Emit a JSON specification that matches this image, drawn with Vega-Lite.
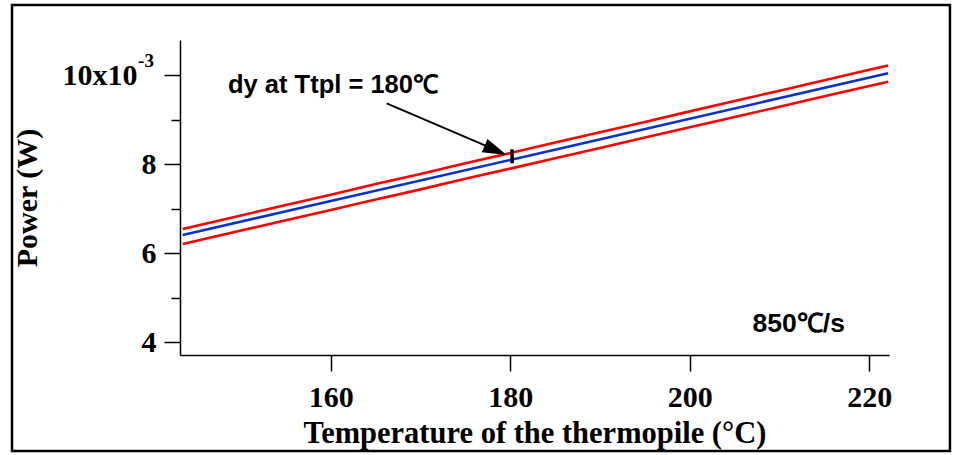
{
  "$schema": "https://vega.github.io/schema/vega-lite/v6.json",
  "width": 709,
  "height": 315,
  "autosize": {"type": "none"},
  "padding": {"left": 180, "top": 40, "right": 64, "bottom": 100},
  "background": "white",
  "config": {"view": {"stroke": null}},
  "datasets": {
    "curves": [
      {"T": 143.5, "P": 0.006542, "series": "upper"},
      {"T": 150, "P": 0.006846, "series": "upper"},
      {"T": 155, "P": 0.007082, "series": "upper"},
      {"T": 160, "P": 0.007312, "series": "upper"},
      {"T": 165, "P": 0.007551, "series": "upper"},
      {"T": 170, "P": 0.007779, "series": "upper"},
      {"T": 175, "P": 0.008018, "series": "upper"},
      {"T": 180, "P": 0.008249, "series": "upper"},
      {"T": 185, "P": 0.008486, "series": "upper"},
      {"T": 190, "P": 0.008716, "series": "upper"},
      {"T": 195, "P": 0.008948, "series": "upper"},
      {"T": 200, "P": 0.009186, "series": "upper"},
      {"T": 205, "P": 0.009421, "series": "upper"},
      {"T": 210, "P": 0.009650, "series": "upper"},
      {"T": 215, "P": 0.009887, "series": "upper"},
      {"T": 220, "P": 0.010119, "series": "upper"},
      {"T": 222.1, "P": 0.010217, "series": "upper"},
      {"T": 143.5, "P": 0.006407, "series": "center"},
      {"T": 160, "P": 0.007170, "series": "center"},
      {"T": 180, "P": 0.008095, "series": "center"},
      {"T": 200, "P": 0.009020, "series": "center"},
      {"T": 222.1, "P": 0.010042, "series": "center"},
      {"T": 143.5, "P": 0.006205, "series": "lower"},
      {"T": 150, "P": 0.006507, "series": "lower"},
      {"T": 155, "P": 0.006741, "series": "lower"},
      {"T": 160, "P": 0.006969, "series": "lower"},
      {"T": 165, "P": 0.007205, "series": "lower"},
      {"T": 170, "P": 0.007433, "series": "lower"},
      {"T": 175, "P": 0.007669, "series": "lower"},
      {"T": 180, "P": 0.007899, "series": "lower"},
      {"T": 185, "P": 0.008133, "series": "lower"},
      {"T": 190, "P": 0.008361, "series": "lower"},
      {"T": 195, "P": 0.008597, "series": "lower"},
      {"T": 200, "P": 0.008827, "series": "lower"},
      {"T": 205, "P": 0.009061, "series": "lower"},
      {"T": 210, "P": 0.009289, "series": "lower"},
      {"T": 215, "P": 0.009525, "series": "lower"},
      {"T": 220, "P": 0.009756, "series": "lower"},
      {"T": 222.1, "P": 0.009853, "series": "lower"}
    ]
  },
  "layer": [
    {
      "data": {"name": "curves"},
      "mark": {"type": "line", "strokeWidth": 2.6},
      "encoding": {
        "x": {
          "field": "T", "type": "quantitative",
          "scale": {"domain": [143.2, 222.2], "nice": false, "zero": false},
          "axis": {
            "values": [160, 180, 200, 220],
            "grid": false,
            "tickSize": 16, "tickWidth": 1.5, "tickColor": "black",
            "domainColor": "black", "domainWidth": 1.5,
            "labelFont": "Liberation Serif", "labelFontWeight": "bold", "labelFontSize": 30,
            "labelColor": "black", "labelPadding": 11, "labelFlush": false, "labelOverlap": false,
            "title": "Temperature of the thermopile (°C)",
            "titleFont": "Liberation Serif", "titleFontWeight": "bold", "titleFontSize": 30.5,
            "titleColor": "black", "titlePadding": 6
          }
        },
        "y": {
          "field": "P", "type": "quantitative",
          "scale": {"domain": [0.00371, 0.01079], "nice": false, "zero": false},
          "axis": {
            "values": [0.004, 0.005, 0.006, 0.007, 0.008, 0.009, 0.01],
            "labelExpr": "round(datum.value*1000)==10 ? '10x10' : (round(datum.value*1000)%2==0 ? format(round(datum.value*1000),'d') : '')",
            "grid": false,
            "tickSize": {"condition": {"test": "round(datum.value*1000)%2==1", "value": 9}, "value": 16},
            "tickWidth": 1.5, "tickColor": "black",
            "domainColor": "black", "domainWidth": 1.5,
            "labelFont": "Liberation Serif", "labelFontWeight": "bold", "labelFontSize": 30,
            "labelColor": "black",
            "labelPadding": {"condition": {"test": "round(datum.value*1000)==10", "value": 27}, "value": 8},
            "labelFlush": false, "labelOverlap": false,
            "title": "Power (W)",
            "titleFont": "Liberation Serif", "titleFontWeight": "bold", "titleFontSize": 30,
            "titleColor": "black", "titlePadding": 20
          }
        },
        "color": {
          "field": "series", "type": "nominal",
          "scale": {"domain": ["upper", "center", "lower"], "range": ["#ff0000", "#0a32c8", "#ff0000"]},
          "legend": null
        }
      }
    },
    {
      "data": {"values": [{}]},
      "mark": {"type": "rect", "filled": false, "stroke": "black", "strokeWidth": 2.5},
      "encoding": {
        "x": {"datum": 124.48, "type": "quantitative"},
        "x2": {"datum": 228.99},
        "y": {"datum": 0.011577, "type": "quantitative"},
        "y2": {"datum": 0.001552}
      }
    },
    {
      "data": {"values": [{}]},
      "mark": {"type": "rule", "stroke": "black", "strokeWidth": 2},
      "encoding": {
        "x": {"datum": 166.23, "type": "quantitative"},
        "x2": {"datum": 178.8},
        "y": {"datum": 0.009367, "type": "quantitative"},
        "y2": {"datum": 0.00828}
      }
    },
    {
      "data": {"values": [{}]},
      "mark": {"type": "point", "shape": "M0,0L-1,-0.3L-1,0.3Z", "filled": true, "color": "black", "opacity": 1, "size": 2304, "angle": 23.3, "strokeWidth": 0},
      "encoding": {
        "x": {"datum": 179.6, "type": "quantitative"},
        "y": {"datum": 0.008205, "type": "quantitative"}
      }
    },
    {
      "data": {"values": [{}]},
      "mark": {"type": "rule", "stroke": "black", "strokeWidth": 3.5},
      "encoding": {
        "x": {"datum": 180.2, "type": "quantitative"},
        "y": {"datum": 0.008333, "type": "quantitative"},
        "y2": {"datum": 0.008019}
      }
    },
    {
      "data": {"values": [{}]},
      "mark": {"type": "text", "text": "dy at Ttpl = 180℃", "font": "Liberation Sans", "fontWeight": "bold", "fontSize": 25.5, "align": "left", "baseline": "alphabetic", "color": "black"},
      "encoding": {
        "x": {"datum": 148.55, "type": "quantitative"},
        "y": {"datum": 0.009599, "type": "quantitative"}
      }
    },
    {
      "data": {"values": [{}]},
      "mark": {"type": "text", "text": "850℃/s", "font": "Liberation Sans", "fontWeight": "bold", "fontSize": 26.5, "align": "left", "baseline": "alphabetic", "color": "black"},
      "encoding": {
        "x": {"datum": 207.0, "type": "quantitative"},
        "y": {"datum": 0.004233, "type": "quantitative"}
      }
    },
    {
      "data": {"values": [{}]},
      "mark": {"type": "text", "text": "-3", "font": "Liberation Serif", "fontWeight": "bold", "fontSize": 19, "align": "center", "baseline": "middle", "dx": -34, "dy": -14, "color": "black"},
      "encoding": {
        "x": {"datum": 143.2, "type": "quantitative"},
        "y": {"datum": 0.01, "type": "quantitative"}
      }
    }
  ]
}
